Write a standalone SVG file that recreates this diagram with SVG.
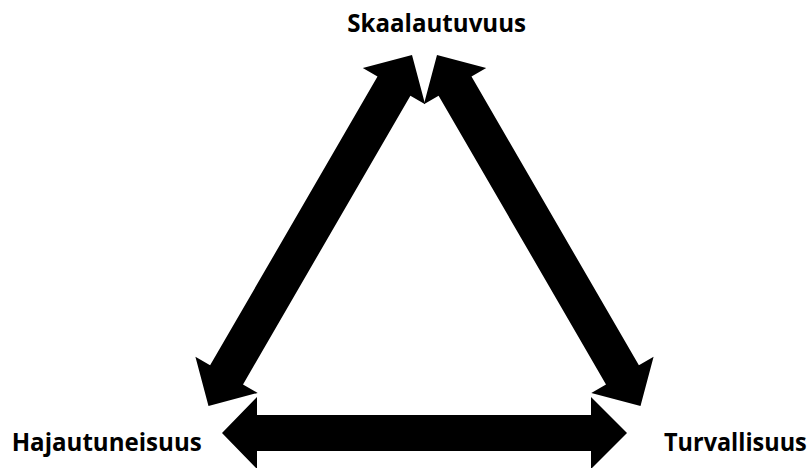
<svg xmlns="http://www.w3.org/2000/svg" width="812" height="468" viewBox="0 0 812 468">
<style>
.lbl{font-family:"Open Sans","Liberation Sans",sans-serif;font-weight:bold;font-size:25px;fill:#000}
.arr{fill:#000;stroke:none}
</style>
<rect width="812" height="468" fill="#fff"/>
<g id="connectors">
<path class="arr" d="M208.5,406 L257.7,392.9 L243.0,384.4 L410.4,95.7 L425.1,104.2 L412,55 L362.8,68.1 L377.5,76.6 L210.1,365.3 L195.4,356.8 Z"/>
<path class="arr" d="M640.5,406 L591.3,392.9 L606,384.4 L438.6,95.7 L423.9,104.2 L437,55 L486.2,68.1 L471.5,76.6 L638.9,365.3 L653.6,356.8 Z"/>
<path class="arr" d="M222,433 L257,397 L257,415 L591,415 L591,397 L627,433 L591,469 L591,451 L257,451 L257,469 Z"/>
</g>
<g id="skaalautuvuus">
<text class="lbl" x="347.3" y="31.7" textLength="178.7" lengthAdjust="spacingAndGlyphs">Skaalautuvuus</text>
</g>
<g id="hajautuneisuus">
<text class="lbl" x="11.7" y="450.7" textLength="190" lengthAdjust="spacingAndGlyphs">Hajautuneisuus</text>
</g>
<g id="turvallisuus">
<text class="lbl" x="664" y="450.7" textLength="142.7" lengthAdjust="spacingAndGlyphs">Turvallisuus</text>
</g>
</svg>
